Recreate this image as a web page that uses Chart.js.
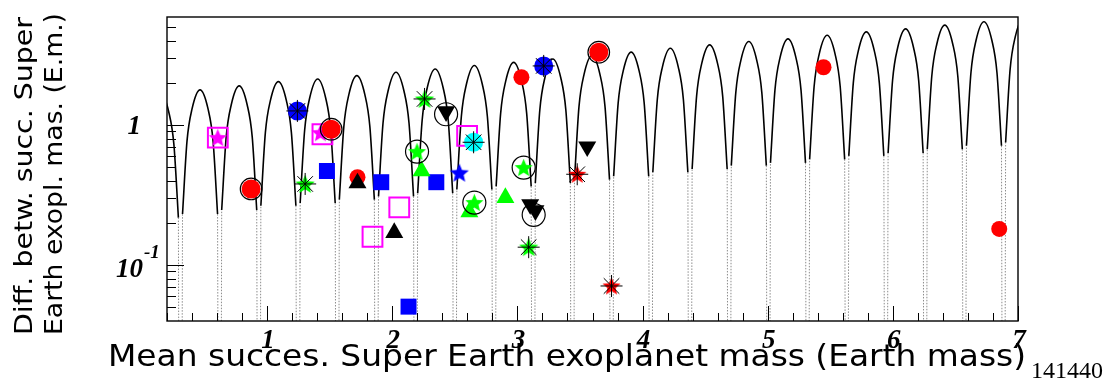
<!DOCTYPE html>
<html>
<head>
<meta charset="utf-8">
<script src="https://cdn.jsdelivr.net/npm/chart.js@4.4.0/dist/chart.umd.min.js"></script>
<style>
  html, body { margin: 0; padding: 0; background: #fff; }
  canvas { display: block; }
</style>
</head>
<body>
<canvas id="chart" width="1112" height="383"></canvas>
<script>
// arches of the model curve, one row per arch (left foot .. peak .. right foot)
const archMass = [
  [0.011, 0.047, 0.087, 0.151, 0.215, 0.255, 0.291],
  [0.324, 0.360, 0.400, 0.464, 0.528, 0.568, 0.604],
  [0.637, 0.673, 0.713, 0.777, 0.841, 0.881, 0.917],
  [0.950, 0.986, 1.026, 1.090, 1.154, 1.194, 1.230],
  [1.264, 1.300, 1.340, 1.404, 1.468, 1.508, 1.544],
  [1.577, 1.613, 1.653, 1.717, 1.781, 1.821, 1.857],
  [1.890, 1.926, 1.966, 2.030, 2.094, 2.134, 2.170],
  [2.203, 2.239, 2.279, 2.343, 2.407, 2.447, 2.483],
  [2.516, 2.552, 2.592, 2.656, 2.720, 2.760, 2.796],
  [2.830, 2.866, 2.906, 2.970, 3.034, 3.074, 3.110],
  [3.143, 3.179, 3.219, 3.283, 3.347, 3.387, 3.423],
  [3.456, 3.492, 3.532, 3.596, 3.660, 3.700, 3.736],
  [3.769, 3.805, 3.845, 3.909, 3.973, 4.013, 4.049],
  [4.082, 4.118, 4.158, 4.222, 4.286, 4.326, 4.362],
  [4.396, 4.432, 4.472, 4.536, 4.600, 4.640, 4.676],
  [4.709, 4.745, 4.785, 4.849, 4.913, 4.953, 4.989],
  [5.022, 5.058, 5.098, 5.162, 5.226, 5.266, 5.302],
  [5.335, 5.371, 5.411, 5.475, 5.539, 5.579, 5.615],
  [5.648, 5.684, 5.724, 5.788, 5.852, 5.892, 5.928],
  [5.962, 5.998, 6.038, 6.102, 6.166, 6.206, 6.242],
  [6.275, 6.311, 6.351, 6.415, 6.479, 6.519, 6.555],
  [6.588, 6.624, 6.664, 6.728, 6.792, 6.832, 6.868],
  [6.901, 6.937, 6.977, 7.041, 7.105, 7.145, 7.181]
];
const archDiff = [
  [0.218, 0.726, 1.228, 1.68, 1.228, 0.726, 0.218],
  [0.231, 0.769, 1.301, 1.78, 1.301, 0.769, 0.231],
  [0.247, 0.821, 1.389, 1.90, 1.389, 0.821, 0.247],
  [0.265, 0.881, 1.491, 2.04, 1.491, 0.881, 0.265],
  [0.277, 0.920, 1.557, 2.13, 1.557, 0.920, 0.277],
  [0.293, 0.972, 1.645, 2.25, 1.645, 0.972, 0.293],
  [0.309, 1.028, 1.740, 2.38, 1.740, 1.028, 0.309],
  [0.326, 1.084, 1.835, 2.51, 1.835, 1.084, 0.326],
  [0.346, 1.149, 1.944, 2.66, 1.944, 1.149, 0.346],
  [0.364, 1.210, 2.047, 2.80, 2.047, 1.210, 0.364],
  [0.385, 1.279, 2.164, 2.96, 2.164, 1.279, 0.385],
  [0.407, 1.352, 2.288, 3.13, 2.288, 1.352, 0.407],
  [0.430, 1.430, 2.420, 3.31, 2.420, 1.430, 0.430],
  [0.459, 1.525, 2.580, 3.53, 2.580, 1.525, 0.459],
  [0.485, 1.611, 2.727, 3.73, 2.727, 1.611, 0.485],
  [0.512, 1.702, 2.880, 3.94, 2.880, 1.702, 0.512],
  [0.536, 1.780, 3.012, 4.12, 3.012, 1.780, 0.536],
  [0.568, 1.888, 3.194, 4.37, 3.194, 1.888, 0.568],
  [0.601, 1.996, 3.377, 4.62, 3.377, 1.996, 0.601],
  [0.631, 2.095, 3.545, 4.85, 3.545, 2.095, 0.631],
  [0.671, 2.229, 3.772, 5.16, 3.772, 2.229, 0.671],
  [0.710, 2.359, 3.991, 5.46, 3.991, 2.359, 0.710],
  [0.750, 2.493, 4.218, 5.77, 4.218, 2.493, 0.750]
];
// where the curve drops to zero between two arches
const zeroMass = [0.307, 0.621, 0.934, 1.247, 1.560, 1.873, 2.187, 2.500, 2.813, 3.126, 3.439,
                  3.753, 4.066, 4.379, 4.692, 5.005, 5.318, 5.632, 5.945, 6.258, 6.571, 6.885];
const zeroDiff = 1e-6;

// measured exoplanet pairs, grouped by marker
const redRingMass = [0.872, 1.512, 3.650];
const redRingDiff = [0.349, 0.932, 3.306];
const redDotMass = [1.722, 3.032, 5.446, 6.850];
const redDotDiff = [0.423, 2.191, 2.583, 0.181];
const magentaBoxMass = [0.606, 1.442, 1.842, 2.056, 2.598];
const magentaBoxDiff = [0.811, 0.858, 0.159, 0.258, 0.835];
const magentaStarMass = [0.606, 1.426];
const magentaStarDiff = [0.811, 0.880];
const blueBallMass = [1.242, 3.210];
const blueBallDiff = [1.259, 2.639];
const greenStarMass = [1.304, 2.258, 3.090];
const greenStarDiff = [0.379, 1.533, 0.134];
const blueBoxMass = [1.478, 1.912, 2.130, 2.352];
const blueBoxDiff = [0.469, 0.390, 0.0504, 0.390];
const blackUpMass = [1.722, 2.016];
const blackUpDiff = [0.384, 0.170];
const greenUpMass = [2.234, 2.616, 2.904];
const greenUpDiff = [0.469, 0.239, 0.302];
const ringStarMass = [2.198, 2.656, 3.050];
const ringStarDiff = [0.645, 0.279, 0.496];
const blackDownMass = [2.430, 3.102, 3.144, 3.558];
const blackDownDiff = [1.247, 0.271, 0.245, 0.700];
const downRingMass = [2.430, 3.130];
const downRingDiff = [1.192, 0.228];
const blueStarMass = [2.536];
const blueStarDiff = [0.456];
const cyanBallMass = [2.650];
const cyanBallDiff = [0.752];
const redStarMass = [3.478, 3.752];
const redStarDiff = [0.4445, 0.0708];

// axis ticks and labels
const xTickValues = [1, 2, 3, 4, 5, 6, 7];
const xTickLabels = ['1', '2', '3', '4', '5', '6', '7'];
const yMajorTicks = [0.1, 1];
const yMinorTicks = [0.05, 0.06, 0.07, 0.08, 0.09, 0.2, 0.3, 0.4, 0.5, 0.6, 0.7, 0.8, 0.9, 2, 3, 4, 5];
const yTickLabels = ['10', '1'];
const yTickExponents = ['-1', ''];

const xTitle = 'Mean succes. Super Earth exoplanet mass (Earth mass)';
const yTitle = ['Diff. betw. succ. Super', 'Earth exopl. mas. (E.m.)'];
const runLabel = '141440';

// filled five-point star, used as a point image
function starImage(color, r) {
  const c = document.createElement('canvas');
  const s = Math.ceil(r * 2 + 2);
  c.width = s;
  c.height = s;
  const g = c.getContext('2d');
  g.translate(s / 2, s / 2 + r * 0.08);
  g.beginPath();
  for (let i = 0; i < 10; i++) {
    const a = -Math.PI / 2 + i * Math.PI / 5;
    const rr = i % 2 ? r * 0.45 : r;
    g.lineTo(rr * Math.cos(a), rr * Math.sin(a));
  }
  g.closePath();
  g.fillStyle = color;
  g.fill();
  return c;
}

function pts(mass, diff) {
  return mass.map((m, i) => ({ x: m, y: diff[i] }));
}

function markers(mass, diff, style, order) {
  return Object.assign({
    data: pts(mass, diff),
    order: order,
    pointBorderWidth: 0,
    pointHoverRadius: style.pointRadius
  }, style);
}

// arches, split by a gap at each zero
const archPoints = [];
archMass.forEach((row, k) => {
  row.forEach((m, j) => archPoints.push({ x: m, y: archDiff[k][j] }));
  archPoints.push({ x: row[row.length - 1], y: null });
});

// the steep fall to zero, drawn faint and dotted
const zeroPoints = [];
zeroMass.forEach((z, k) => {
  const left = archMass[k], right = archMass[k + 1];
  zeroPoints.push({ x: left[6], y: archDiff[k][6] });
  zeroPoints.push({ x: z, y: zeroDiff });
  zeroPoints.push({ x: right[0], y: archDiff[k + 1][0] });
  zeroPoints.push({ x: right[0], y: null });
});

const asteriskMass = blueBallMass.concat(greenStarMass, cyanBallMass, redStarMass);
const asteriskDiff = blueBallDiff.concat(greenStarDiff, cyanBallDiff, redStarDiff);

const axisDecor = {
  id: 'axisDecor',
  afterDatasetsDraw(chart) {
    const { ctx, chartArea: a, scales: { x, y } } = chart;
    ctx.save();
    ctx.strokeStyle = '#000';
    ctx.lineWidth = 1;
    const tick = (x0, y0, x1, y1) => {
      ctx.beginPath();
      ctx.moveTo(x0, y0);
      ctx.lineTo(x1, y1);
      ctx.stroke();
    };
    // x ticks (inside the frame)
    x.ticks.forEach(t => {
      const px = Math.round(x.getPixelForValue(t.value)) + 0.5;
      const major = Math.abs(t.value - Math.round(t.value)) < 1e-6;
      tick(px, a.bottom, px, a.bottom - (major ? 15 : 8));
    });
    yMinorTicks.forEach(v => {
      const py = Math.round(y.getPixelForValue(v)) + 0.5;
      tick(a.left, py, a.left + 9, py);
    });
    yMajorTicks.forEach(v => {
      const py = Math.round(y.getPixelForValue(v)) + 0.5;
      tick(a.left, py, a.left + 17, py);
    });
    // frame
    ctx.lineWidth = 1.4;
    ctx.strokeRect(a.left, a.top, a.right - a.left, a.bottom - a.top);

    ctx.fillStyle = '#000';
    // tick labels
    ctx.font = 'bold italic 27px "Liberation Serif"';
    ctx.textAlign = 'center';
    ctx.textBaseline = 'alphabetic';
    xTickValues.forEach((v, i) => {
      ctx.fillText(xTickLabels[i], x.getPixelForValue(v) + 1, a.bottom + 27);
    });
    yMajorTicks.forEach((v, i) => {
      const py = y.getPixelForValue(v);
      ctx.font = 'bold italic 27px "Liberation Serif"';
      ctx.textAlign = 'right';
      if (yTickExponents[i]) {
        ctx.fillText(yTickLabels[i], 143, py + 12);
        ctx.font = 'bold italic 19px "Liberation Serif"';
        ctx.textAlign = 'left';
        ctx.fillText(yTickExponents[i], 144, py - 7);
      } else {
        ctx.fillText(yTickLabels[i], 141, py + 9);
      }
    });

    // axis titles
    const fit = (text, tx, ty, width, rot) => {
      ctx.save();
      ctx.translate(tx, ty);
      if (rot) ctx.rotate(rot);
      const w = ctx.measureText(text).width;
      ctx.scale(width / w, 1);
      ctx.fillText(text, 0, 0);
      ctx.restore();
    };
    ctx.textAlign = 'left';
    ctx.font = '30px "DejaVu Sans"';
    fit(xTitle, 108, 366, 918, 0);
    ctx.font = '25px "DejaVu Sans"';
    fit(yTitle[0], 32, 335, 318, -Math.PI / 2);
    fit(yTitle[1], 62, 335, 322, -Math.PI / 2);
    ctx.font = '24px "Liberation Serif"';
    ctx.fillText(runLabel, 1031, 378);
    ctx.restore();
  }
};

new Chart(document.getElementById('chart'), {
  type: 'scatter',
  data: {
    datasets: [
      {
        data: archPoints,
        showLine: true,
        spanGaps: false,
        cubicInterpolationMode: 'monotone',
        borderColor: '#000',
        borderWidth: 1.6,
        pointRadius: 0,
        pointHoverRadius: 0,
        order: 30
      },
      {
        data: zeroPoints,
        showLine: true,
        spanGaps: false,
        tension: 0,
        borderColor: '#8c8c8c',
        borderWidth: 1,
        borderDash: [1.5, 1.5],
        pointRadius: 0,
        pointHoverRadius: 0,
        order: 31
      },
      markers(magentaBoxMass, magentaBoxDiff, {
        pointStyle: 'rect', pointRadius: 14, pointBackgroundColor: 'rgba(0,0,0,0)',
        pointBorderColor: '#ff00ff', pointBorderWidth: 2
      }, 20),
      markers(magentaStarMass, magentaStarDiff, {
        pointStyle: starImage('#ff00ff', 9.5), pointRadius: 9
      }, 19),
      markers(redDotMass, redDotDiff, {
        pointStyle: 'circle', pointRadius: 8, pointBackgroundColor: '#ff0000'
      }, 18),
      markers(blueBoxMass, blueBoxDiff, {
        pointStyle: 'rect', pointRadius: 11.3, pointBackgroundColor: '#0000ff'
      }, 17),
      markers(blackUpMass, blackUpDiff, {
        pointStyle: 'triangle', pointRadius: 10.4, pointBackgroundColor: '#000'
      }, 16),
      markers(greenUpMass, greenUpDiff, {
        pointStyle: 'triangle', pointRadius: 10.4, pointBackgroundColor: '#00ff00'
      }, 16),
      markers(blackDownMass, blackDownDiff, {
        pointStyle: 'triangle', pointRadius: 10.4, pointRotation: 180, pointBackgroundColor: '#000'
      }, 15),
      markers(redRingMass, redRingDiff, {
        pointStyle: 'circle', pointRadius: 9.5, pointBackgroundColor: '#ff0000'
      }, 14),
      markers(redRingMass, redRingDiff, {
        pointStyle: 'circle', pointRadius: 10.8, pointBackgroundColor: 'rgba(0,0,0,0)',
        pointBorderColor: '#000', pointBorderWidth: 1.2
      }, 13),
      markers(blueBallMass, blueBallDiff, {
        pointStyle: 'circle', pointRadius: 9.5, pointBackgroundColor: '#0000ff'
      }, 12),
      markers(cyanBallMass, cyanBallDiff, {
        pointStyle: 'circle', pointRadius: 9.5, pointBackgroundColor: '#00ffff'
      }, 12),
      markers(greenStarMass, greenStarDiff, {
        pointStyle: starImage('#00ff00', 10), pointRadius: 9
      }, 12),
      markers(redStarMass, redStarDiff, {
        pointStyle: starImage('#ff0000', 9.5), pointRadius: 9
      }, 12),
      markers(blueStarMass, blueStarDiff, {
        pointStyle: starImage('#0000ff', 10), pointRadius: 9
      }, 12),
      markers(ringStarMass, ringStarDiff, {
        pointStyle: starImage('#00ff00', 9.5), pointRadius: 9
      }, 12),
      markers(ringStarMass, ringStarDiff, {
        pointStyle: 'circle', pointRadius: 11.5, pointBackgroundColor: 'rgba(0,0,0,0)',
        pointBorderColor: '#000', pointBorderWidth: 1.2
      }, 10),
      markers(downRingMass, downRingDiff, {
        pointStyle: 'circle', pointRadius: 11.5, pointBackgroundColor: 'rgba(0,0,0,0)',
        pointBorderColor: '#000', pointBorderWidth: 1.2
      }, 10),
      markers(asteriskMass, asteriskDiff, {
        pointStyle: 'star', pointRadius: 11, pointBackgroundColor: 'rgba(0,0,0,0)',
        pointBorderColor: '#000', pointBorderWidth: 1
      }, 5)
    ]
  },
  options: {
    responsive: false,
    animation: false,
    events: [],
    layout: { padding: { left: 167, top: 17, right: 94, bottom: 62 } },
    plugins: { legend: { display: false }, tooltip: { enabled: false } },
    scales: {
      x: { type: 'linear', display: false, min: 0.2, max: 7, ticks: { stepSize: 0.2 } },
      y: { type: 'logarithmic', display: false, min: 0.0398, max: 5.9 }
    }
  },
  plugins: [axisDecor]
});
</script>
</body>
</html>
